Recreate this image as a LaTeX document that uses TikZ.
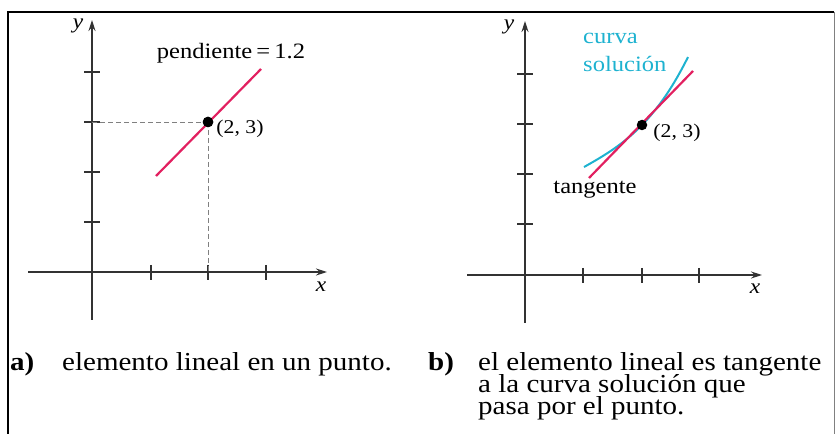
\documentclass[tikz,border=0pt]{standalone}
\usepackage{fontspec}
\setmainfont{Liberation Serif}
\usepackage{graphicx}
\usetikzlibrary{arrows.meta}
\definecolor{redline}{RGB}{226,32,96}
\definecolor{cyanline}{RGB}{30,178,208}
\definecolor{axisgray}{RGB}{50,50,50}
\newcommand{\sx}[1]{\scalebox{1.12}[1]{#1}}
\tikzset{
  axisline/.style={draw=axisgray, line width=1.3bp, -{Stealth[length=11bp,width=7bp]}},
  tickmark/.style={draw=axisgray, line width=1.2bp},
  guideline/.style={draw=gray, line width=0.8bp, dash pattern=on 5bp off 3bp},
  redseg/.style={draw=redline, line width=2.2bp},
  cyanseg/.style={draw=cyanline, line width=2bp},
  ptdot/.style={circle, fill=black, inner sep=0pt, minimum size=10.5bp},
  lbltxt/.style={font=\fontsize{22}{24}\selectfont, inner sep=0pt},
  pttxt/.style={font=\fontsize{19.5}{22}\selectfont, inner sep=0pt},
  axtxt/.style={font=\fontsize{21}{24}\selectfont\itshape, inner sep=0pt},
  captxt/.style={font=\fontsize{26}{21.5}\selectfont, inner sep=0pt, anchor=base west, text height=15bp, text depth=4bp},
}
\begin{document}
\begin{tikzpicture}[x=1bp, y=-1bp]
\useasboundingbox (0,0) rectangle (835,434);
% frame
\draw[line width=2.2bp, black] (8,434) -- (8,12) -- (834,12);
\draw[line width=1bp, gray] (834,12) -- (834,434);

% ---------- panel a ----------
\coordinate (ya0) at (92,320);
\coordinate (ya1) at (92,20);
\coordinate (xa0) at (28,272);
\coordinate (xa1) at (327,272);
\draw[axisline] (ya0) -- (ya1);
\draw[axisline] (xa0) -- (xa1);
\foreach \t in {151,208,266} \draw[tickmark] (\t,265) -- (\t,280);
\foreach \t in {72,122,172,222} \draw[tickmark] (84,\t) -- (100,\t);
\node[ptdot] (pa) at (208,122) {};
\coordinate (pay) at (92,122);
\coordinate (pax) at (208,272);
\draw[guideline] (pay) -- (pa.center);
\draw[guideline] (pa.center) -- (pax);
\coordinate (ra0) at (156,176);
\coordinate (ra1) at (261,69);
\draw[redseg] (ra0) -- (ra1);
\node[ptdot] at (208,122) {};
\node[axtxt] (lya) at (78,26) {\sx{y}};
\node[axtxt] (lxa) at (321,287) {\sx{x}};
\node[lbltxt] (slope) at (231,53) {\sx{pendiente\,=\,1.2}};
\node[pttxt] (pta) at (240,129) {\sx{(2, 3)}};

% ---------- panel b ----------
\coordinate (yb0) at (525,323);
\coordinate (yb1) at (525,21);
\coordinate (xb0) at (467,275);
\coordinate (xb1) at (762,275);
\draw[axisline] (yb0) -- (yb1);
\draw[axisline] (xb0) -- (xb1);
\foreach \t in {583,642,699} \draw[tickmark] (\t,268) -- (\t,283);
\foreach \t in {74,124,174,224} \draw[tickmark] (517,\t) -- (533,\t);
\draw[cyanseg, domain=-5.8:4.6, samples=60, smooth]
  plot ({642+10*\x}, {125 - 10.3*\x - 0.7756*\x*\x - 0.043*\x*\x*\x});
\coordinate (rb0) at (589,178);
\coordinate (rb1) at (693,71);
\draw[redseg] (rb0) -- (rb1);
\node[ptdot] (pb) at (642,125) {};
\node[axtxt] (lyb) at (509,27) {\sx{y}};
\node[axtxt] (lxb) at (755,289) {\sx{x}};
\node[lbltxt, text=cyanline, anchor=west] (curva) at (583,38) {\sx{curva}};
\node[lbltxt, text=cyanline, anchor=west] (sol) at (583,64) {\sx{solución}};
\node[lbltxt] (tang) at (595,190) {\sx{tangente}};
\node[pttxt] (ptb) at (677,133) {\sx{(2, 3)}};

% ---------- captions ----------
\node[captxt] (capa) at (10,371) {\sx{\textbf{a)}}};
\node[captxt] (capat) at (62,371) {\sx{elemento lineal en un punto.}};
\node[captxt] (capb) at (428,371) {\sx{\textbf{b)}}};
\node[captxt] (capbt1) at (478,371) {\sx{el elemento lineal es tangente}};
\node[captxt] (capbt2) at (478,392.5) {\sx{a la curva solución que}};
\node[captxt] (capbt3) at (478,414) {\sx{pasa por el punto.}};
\end{tikzpicture}
\end{document}
